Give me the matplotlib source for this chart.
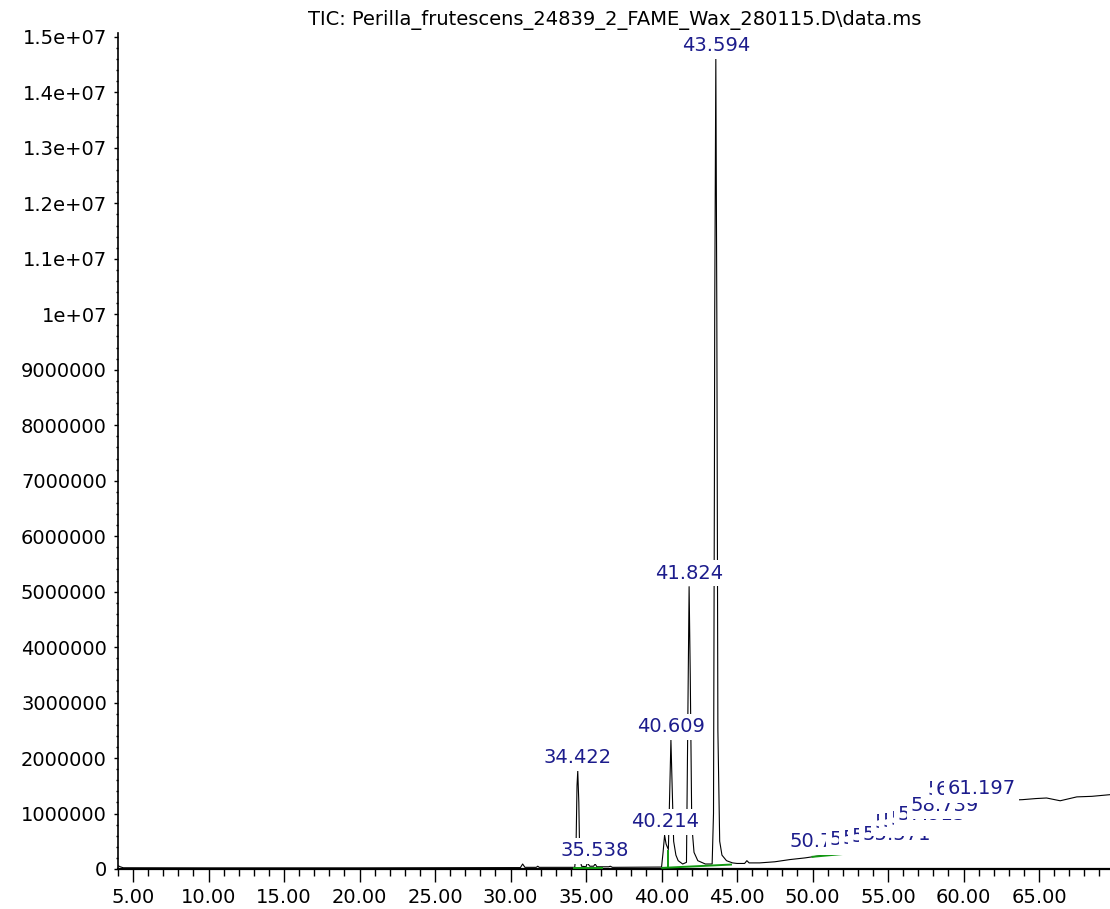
import matplotlib
matplotlib.use("Agg")
import matplotlib.pyplot as plt
from matplotlib.ticker import FixedLocator, MultipleLocator

# total ion chromatogram (time in min, abundance)
rt = [4.0, 4.15, 4.35, 10.0, 20.0, 30.0, 30.65, 30.8, 30.95, 31.7, 31.8, 31.9,
      34.25, 34.33, 34.40, 34.45, 34.52, 34.58, 34.7, 35.0, 35.08, 35.25, 35.5,
      35.6, 35.72, 36.5, 36.6, 36.75, 40.0,
      40.1, 40.2, 40.3, 40.45, 40.55, 40.62, 40.7, 40.8, 40.95, 41.1, 41.4,
      41.65, 41.75, 41.824, 41.9, 42.0, 42.15, 42.4, 42.9, 43.35, 43.44, 43.5,
      43.52, 43.594, 43.66, 43.73, 43.85, 44.0, 44.3, 44.7,
      45.0, 45.5, 45.65, 45.8, 46.5, 47.5, 48.5, 49.5, 50.5, 51.5, 52.5, 53.5,
      54.2, 55.6, 56.4, 57.4, 57.9, 58.7, 59.9, 61.2, 62.0, 63.0, 63.9, 64.8,
      65.5, 66.4, 67.5, 68.5, 69.7]
abund = [60000, 40000, 22000, 20000, 20000, 25000, 25000, 90000, 30000, 30000,
         50000, 30000,
         30000, 300000, 1500000, 1770000, 1200000, 200000, 50000, 40000,
         110000, 50000, 50000, 90000, 40000, 40000, 50000, 30000, 35000,
         300000, 610000, 450000, 350000, 1500000, 2330000, 1500000, 500000,
         250000, 150000, 90000,
         120000, 3000000, 5090000, 3500000, 800000, 300000, 150000, 90000,
         90000, 1000000, 7000000,
         10000000, 14600000, 10000000, 2500000, 500000, 250000, 150000, 110000,
         100000, 100000, 150000, 110000, 110000, 130000, 170000, 200000,
         240000, 280000, 310000, 350000,
         380000, 400000, 600000, 650000, 740000, 900000, 1190000, 1210000,
         1220000, 1240000, 1250000, 1270000,
         1280000, 1230000, 1300000, 1310000, 1340000]

# integration baselines (green)
base_segments = [([34.2, 36.05], [25000, 25000]),
                 ([40.05, 44.6], [20000, 80000]),
                 ([40.45, 40.45], [30000, 330000]),
                 ([50.0, 52.0], [220000, 270000]),
                 ([53.3, 54.1], [340000, 380000])]

# peak labels: retention time, apex abundance
peak_rt = [34.422, 35.538, 40.214, 40.609, 41.824, 43.594]
peak_h = [1770000, 90000, 610000, 2330000, 5090000, 14600000]
cluster_rt = [50.753, 53.412, 54.265, 54.838, 55.571, 56.388, 56.874, 57.405,
              57.913, 58.739, 59.861, 60.402, 61.197]
cluster_h = [250000, 290000, 320000, 340000, 380000, 600000, 620000, 650000,
             740000, 900000, 1190000, 1190000, 1210000]

x_ticks = [5, 10, 15, 20, 25, 30, 35, 40, 45, 50, 55, 60, 65]
y_ticks = [0, 1e6, 2e6, 3e6, 4e6, 5e6, 6e6, 7e6, 8e6, 9e6, 1e7, 1.1e7, 1.2e7,
           1.3e7, 1.4e7, 1.5e7]
y_ticklabels = ["0", "1000000", "2000000", "3000000", "4000000", "5000000",
                "6000000", "7000000", "8000000", "9000000", "1e+07", "1.1e+07",
                "1.2e+07", "1.3e+07", "1.4e+07", "1.5e+07"]
title = r"TIC: Perilla_frutescens_24839_2_FAME_Wax_280115.D\data.ms"

label_color = "#1c1c8c"

fig = plt.figure(figsize=(11.1, 9.09), dpi=100)
ax = fig.add_axes([118 / 1110, 40 / 909, 992 / 1110, 836 / 909])

ax.plot(rt, abund, color="black", linewidth=0.8, zorder=2)
for xs, ys in base_segments:
    ax.plot(xs, ys, color="#119911", linewidth=1.4, zorder=3)

for t, h in zip(peak_rt + cluster_rt, peak_h + cluster_h):
    ax.annotate(f"{t:.3f}", xy=(t, h), xytext=(0, 9.5), textcoords="offset points",
                ha="center", va="center", fontsize=14, color=label_color,
                bbox=dict(facecolor="white", edgecolor="none", pad=2.5), zorder=4)

ax.set_xlim(4.0, 69.7)
ax.set_ylim(0, 15.071e6)

ax.xaxis.set_major_locator(FixedLocator(x_ticks))
ax.set_xticklabels([f"{v:.2f}" for v in x_ticks])
ax.xaxis.set_minor_locator(MultipleLocator(1))
ax.yaxis.set_major_locator(FixedLocator(y_ticks))
ax.set_yticklabels(y_ticklabels)
ax.yaxis.set_minor_locator(MultipleLocator(2e5))

ax.tick_params(axis="x", which="major", length=9.5, width=1, labelsize=14, pad=4)
ax.tick_params(axis="x", which="minor", length=5, width=1)
ax.tick_params(axis="y", which="major", length=3, width=1, labelsize=14, pad=5)
ax.tick_params(axis="y", which="minor", length=1.8, width=1)

for side in ["top", "right"]:
    ax.spines[side].set_visible(False)
ax.spines["left"].set_linewidth(1.2)
ax.spines["bottom"].set_linewidth(1.6)

fig.text(615 / 1110, 1 - 20 / 909, title, ha="center", va="center", fontsize=14)

fig.savefig("out.png", dpi=100)
